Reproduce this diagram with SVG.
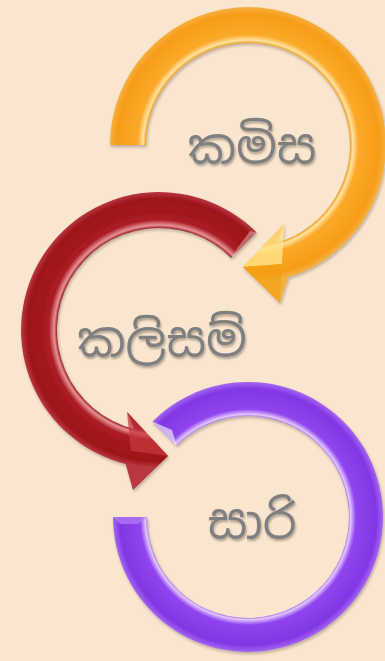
<svg xmlns="http://www.w3.org/2000/svg" width="385" height="661" viewBox="0 0 385 661">
<style>
.lbl{font-family:"Noto Sans Sinhala","Noto Serif Sinhala","Iskoola Pota","Noto Sans","DejaVu Sans",sans-serif;font-size:48px;fill:#7F7F7F;text-anchor:middle;filter:url(#ts)}
.ring{filter:url(#ds)}
</style>
<defs>
<filter id="ds" x="-10%" y="-10%" width="120%" height="120%"><feDropShadow dx="1" dy="2" stdDeviation="1.5" flood-color="#000" flood-opacity="0.25"/></filter>
<filter id="ts" x="-10%" y="-10%" width="120%" height="130%"><feDropShadow dx="1" dy="2" stdDeviation="1.2" flood-color="#000" flood-opacity="0.3"/></filter>
<radialGradient id="gO" gradientUnits="userSpaceOnUse" cx="248" cy="145" r="138">
<stop offset="0" stop-color="#F6A020"/><stop offset="0.735" stop-color="#E8920E"/><stop offset="0.76" stop-color="#FFE2A0"/><stop offset="0.80" stop-color="#FBA92A"/><stop offset="0.95" stop-color="#F89C18"/><stop offset="1" stop-color="#F4B040"/>
</radialGradient>
<radialGradient id="gR" gradientUnits="userSpaceOnUse" cx="159" cy="330" r="138">
<stop offset="0" stop-color="#A0141A"/><stop offset="0.735" stop-color="#8A0E14"/><stop offset="0.76" stop-color="#E89098"/><stop offset="0.80" stop-color="#AA1C22"/><stop offset="0.95" stop-color="#9C1218"/><stop offset="1" stop-color="#B83840"/>
</radialGradient>
<radialGradient id="gP" gradientUnits="userSpaceOnUse" cx="248" cy="517" r="135">
<stop offset="0" stop-color="#8A3CE8"/><stop offset="0.735" stop-color="#7428DC"/><stop offset="0.76" stop-color="#E2C8FF"/><stop offset="0.80" stop-color="#9044EE"/><stop offset="0.95" stop-color="#8236E4"/><stop offset="1" stop-color="#A466F0"/>
</radialGradient>
</defs>
<rect width="385" height="661" fill="#FAE5CE"/>
<g id="connectors">
<g id="arrow-orange" class="ring">
<path d="M110 145 A138 138 0 1 1 288.3 277 L280 303 L243 267 L284 224 L277.8 242.5 A102 102 0 1 0 146 145 Z" fill="url(#gO)"/>
<path d="M243 267 L284 224 L282 264 Z" fill="#FFE48A" opacity="0.8"/>
<path d="M243 267 L280 303 L282 264 Z" fill="#F0A010" opacity="0.6"/>
</g>
<g id="arrow-red" class="ring">
<path d="M256.6 232.4 A138 138 0 1 0 125.6 463.9 L133 490 L168 456 L127 412 L134.3 429 A102 102 0 1 1 231.1 257.9 Z" fill="url(#gR)"/>
<path d="M168 456 L127 412 L131 451 Z" fill="#C8383E" opacity="0.7"/>
<path d="M231.1 257.9 L256.6 232.4 L250 231 L236 250 Z" fill="#FFFFFF" opacity="0.35"/>
</g>
<g id="arrow-purple" class="ring">
<path d="M113 517 A135 135 0 1 0 152.5 421.5 L176.6 445.6 A101 101 0 1 1 147 517 Z" fill="url(#gP)"/>
<path d="M152.5 421.5 L176.6 445.6 L172 430 Z" fill="#FFFFFF" opacity="0.6"/>
<path d="M113 517 L147 517 L138 524 L120 524 Z" fill="#B080F8" opacity="0.7"/>
</g>
</g>
<g id="node-kamisa"><text class="lbl" x="252" y="163">කමිස</text></g>
<g id="node-kalisam"><text class="lbl" x="162" y="356">කලිසම්</text></g>
<g id="node-saari"><text class="lbl" x="252" y="538">සාරි</text></g>
</svg>
